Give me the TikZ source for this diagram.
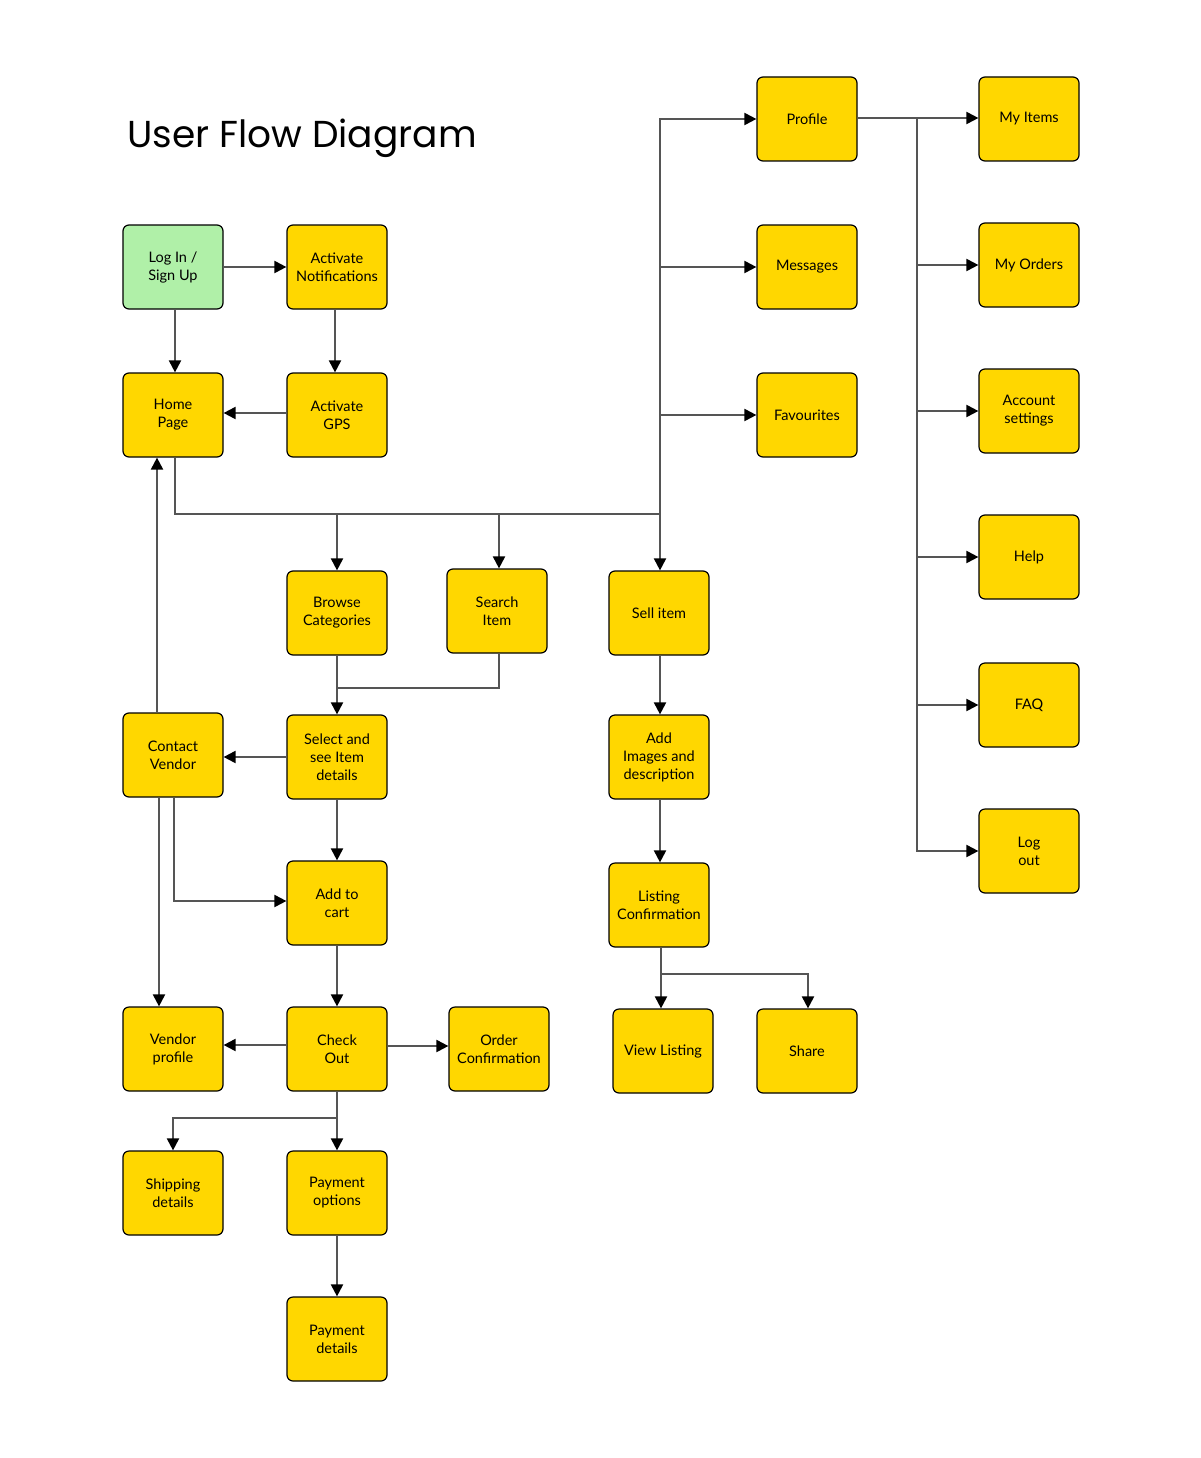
\documentclass[tikz,border=0pt]{standalone}
\usepackage{fontspec}
\setmainfont{Lato}
\newfontfamily\titlefont{Poppins}
\usetikzlibrary{arrows.meta,calc}
\definecolor{boxyellow}{HTML}{FFD700}
\definecolor{boxgreen}{HTML}{B0F0A8}
\definecolor{linegray}{HTML}{555555}
\begin{document}
\begin{tikzpicture}[x=1pt,y=-1pt,
  box/.style={draw=black,line width=1.2pt,fill=boxyellow,rounded corners=6pt,
    minimum width=100pt,minimum height=84pt,inner sep=0pt,align=center,
    font=\fontsize{14.5}{18}\selectfont},
  startbox/.style={box,fill=boxgreen},
  conn/.style={draw=linegray,line width=2pt},
  arr/.style={conn,-{Triangle[length=12pt,width=12pt,color=black]}}]
\useasboundingbox (0,0) rectangle (1200,1458);
\node[anchor=base west,inner sep=0pt,font=\titlefont\fontsize{37.5}{44}\selectfont] (title) at (127,148) {User Flow Diagram};
% left column
\node[startbox] (login) at (173,267) {Log In /\\Sign Up};
\node[box] (notif) at (337,267) {Activate\\Notifications};
\node[box] (home) at (173,415) {Home\\Page};
\node[box] (gps) at (337,415) {Activate\\GPS};
% top menu
\node[box] (profile) at (807,119) {Profile};
\node[box] (messages) at (807,267) {Messages};
\node[box] (fav) at (807,415) {Favourites};
% right column
\node[box] (myitems) at (1029,119) {My Items};
\node[box] (myorders) at (1029,265) {My Orders};
\node[box] (account) at (1029,411) {Account\\settings};
\node[box] (help) at (1029,557) {Help};
\node[box] (faq) at (1029,705) {FAQ};
\node[box] (logout) at (1029,851) {Log\\out};
% middle
\node[box] (browse) at (337,613) {Browse\\Categories};
\node[box] (search) at (497,611) {Search\\Item};
\node[box] (sell) at (659,613) {Sell item};
\node[box] (contact) at (173,755) {Contact\\Vendor};
\node[box] (select) at (337,757) {Select and\\see Item\\details};
\node[box] (images) at (659,757) {Add\\Images and\\description};
\node[box] (cart) at (337,903) {Add to\\cart};
\node[box] (listing) at (659,905) {Listing\\Confirmation};
\node[box] (vprofile) at (173,1049) {Vendor\\profile};
\node[box] (checkout) at (337,1049) {Check\\Out};
\node[box] (order) at (499,1049) {Order\\Confirmation};
\node[box] (view) at (663,1051) {View Listing};
\node[box] (share) at (807,1051) {Share};
\node[box] (ship) at (173,1193) {Shipping\\details};
\node[box] (payopt) at (337,1193) {Payment\\options};
\node[box] (paydet) at (337,1339) {Payment\\details};
% junctions
\coordinate (bus) at (660,514);
\coordinate (rt) at (917,118);
\coordinate (sj) at (337,688);
\coordinate (cj) at (337,1118);
\coordinate (lj) at (661,974);
% connectors
\draw[arr] (login.east) -- (notif.west);
\draw[arr] ([xshift=2pt]login.south) -- ([xshift=2pt]home.north);
\draw[arr] ([xshift=-2pt]notif.south) -- ([xshift=-2pt]gps.north);
\draw[arr] ([yshift=2pt]gps.west) -- ([yshift=2pt]home.east);
\draw[conn] ([xshift=2pt]home.south) |- (bus);
\draw[arr] (bus -| browse.north) -- (browse.north);
\draw[arr] ([xshift=2pt]bus -| search.north) -- ([xshift=2pt]search.north);
\draw[arr] (bus) -- (bus |- sell.north);
\draw[arr] (bus) |- (profile.west);
\draw[arr] (bus) |- (messages.west);
\draw[arr] (bus) |- (fav.west);
\draw[arr] ([yshift=1pt]profile.east) -- ([yshift=1pt]myitems.west);
\draw[conn] (rt) -- (rt |- logout.west);
\draw[arr] (rt) |- (myorders.west);
\draw[arr] (rt) |- (account.west);
\draw[arr] (rt) |- (help.west);
\draw[arr] (rt) |- (faq.west);
\draw[arr] (rt) |- (logout.west);
\draw[arr] (browse.south) -- (select.north);
\draw[conn] ([xshift=2pt]search.south) |- (sj);
\draw[arr] (select.west) -- (select.west -| contact.east);
\draw[arr] ([xshift=-16pt]contact.north) -- ([xshift=-16pt]home.south);
\draw[arr] ([xshift=-14pt]contact.south) -- ([xshift=-14pt]vprofile.north);
\draw[arr] ([xshift=1pt]contact.south) |- ([yshift=2pt]cart.west);
\draw[arr] (select.south) -- (cart.north);
\draw[arr] (cart.south) -- (checkout.north);
\draw[arr] ([yshift=4pt]checkout.west) -- ([yshift=4pt]vprofile.east);
\draw[arr] ([yshift=3pt]checkout.east) -- ([yshift=3pt]order.west);
\draw[conn] (checkout.south) -- (cj);
\draw[arr] (cj) -| (ship.north);
\draw[arr] (cj) -- (payopt.north);
\draw[arr] (payopt.south) -- (paydet.north);
\draw[arr] ([xshift=1pt]sell.south) -- ([xshift=1pt]images.north);
\draw[arr] ([xshift=1pt]images.south) -- ([xshift=1pt]listing.north);
\draw[arr] (lj |- listing.south) -- (lj |- view.north);
\draw[arr] (lj) -| ([xshift=1pt]share.north);
\end{tikzpicture}
\end{document}
